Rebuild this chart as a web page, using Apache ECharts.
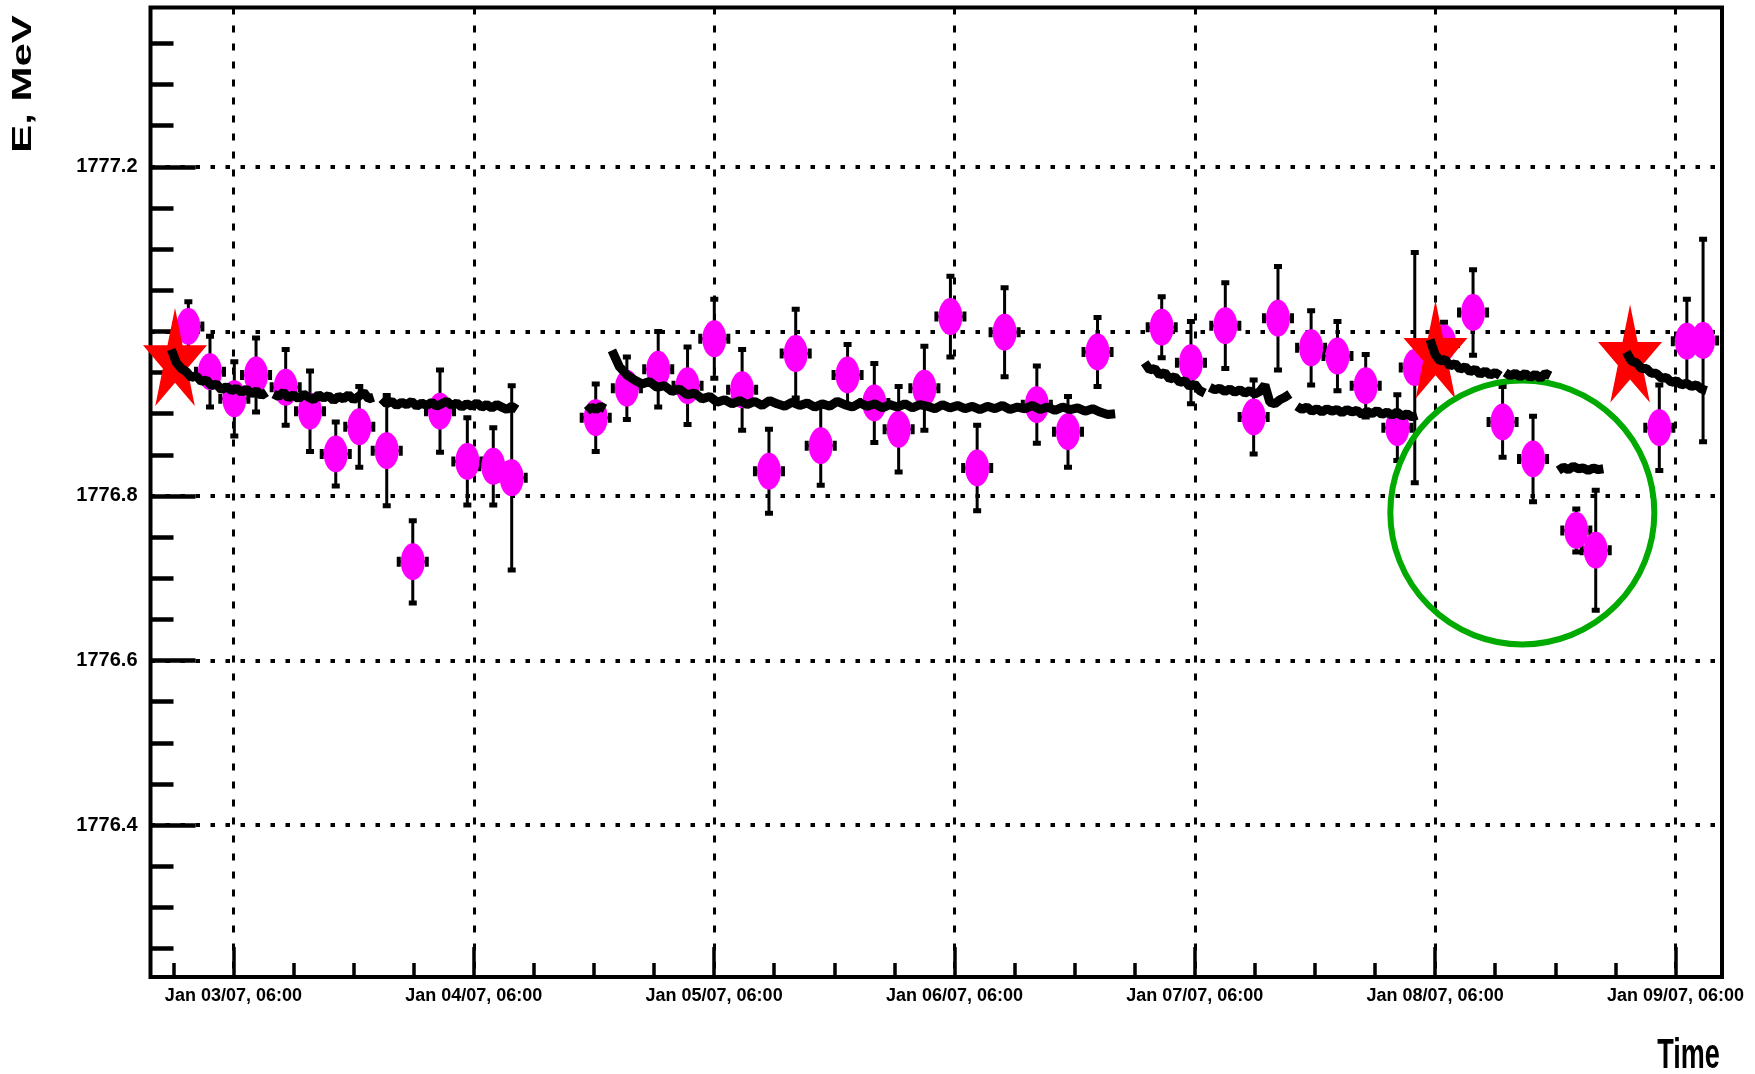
<!DOCTYPE html>
<html>
<head>
<meta charset="utf-8">
<script src="https://cdn.jsdelivr.net/npm/echarts@6/dist/echarts.min.js"></script>
<style>html,body{margin:0;padding:0;background:#fff}#c{width:1755px;height:1074px}</style>
</head>
<body>
<div id="c"></div>
<script>
// x values: hours since 2007-01-03 00:00
const xMajorTicks = [6, 30, 54, 78, 102, 126, 150];
const xTickLabels = ['Jan 03/07, 06:00','Jan 04/07, 06:00','Jan 05/07, 06:00','Jan 06/07, 06:00','Jan 07/07, 06:00','Jan 08/07, 06:00','Jan 09/07, 06:00'];
const xMinorTicks = [0,6,12,18,24,30,36,42,48,54,60,66,72,78,84,90,96,102,108,114,120,126,132,138,144,150];
const yMajorTicks = [1776.4, 1776.6, 1776.8, 1777.0, 1777.2];
const yTickLabels = ['1776.4', '1776.6', '1776.8', '', '1777.2'];
const yMinorTicks = [1776.25,1776.30,1776.35,1776.40,1776.45,1776.50,1776.55,1776.60,1776.65,1776.70,1776.75,1776.80,1776.85,1776.90,1776.95,1777.00,1777.05,1777.10,1777.15,1777.20,1777.25,1777.30,1777.35];

// magenta points with errors
const pointTime = [1.50, 3.66, 6.09, 8.26, 11.22, 13.65, 16.22, 18.57, 21.31, 23.91, 26.63, 29.36, 31.95, 33.79,
  42.18, 45.29, 48.42, 51.35, 54.02, 56.80, 59.48, 62.15, 64.65, 67.33, 70.00, 72.43, 75.00, 77.60, 80.27, 83.01, 86.23, 89.34, 92.29,
  98.70, 101.62, 105.05, 107.88, 110.31, 113.62, 116.25, 119.07, 122.23, 123.97, 126.89, 129.79, 132.74, 135.78, 140.10, 142.04, 148.39, 151.14, 152.76];
const pointEnergy = [1777.006, 1776.951, 1776.918, 1776.947, 1776.932, 1776.903, 1776.851, 1776.884, 1776.855, 1776.720, 1776.903, 1776.842, 1776.836, 1776.822,
  1776.895, 1776.931, 1776.954, 1776.934, 1776.991, 1776.929, 1776.830, 1776.973, 1776.861, 1776.947, 1776.913, 1776.881, 1776.931, 1777.018, 1776.834, 1776.999, 1776.911, 1776.878, 1776.975,
  1777.005, 1776.962, 1777.007, 1776.896, 1777.016, 1776.980, 1776.970, 1776.934, 1776.883, 1776.956, 1776.986, 1777.023, 1776.890, 1776.845, 1776.758, 1776.734, 1776.883, 1776.988, 1776.989];
const pointErr = [0.030, 0.043, 0.045, 0.045, 0.046, 0.049, 0.039, 0.049, 0.067, 0.050, 0.050, 0.053, 0.047, 0.112,
  0.041, 0.038, 0.046, 0.047, 0.048, 0.049, 0.051, 0.054, 0.048, 0.037, 0.048, 0.052, 0.051, 0.049, 0.052, 0.054, 0.047, 0.043, 0.042,
  0.037, 0.050, 0.052, 0.045, 0.063, 0.045, 0.042, 0.038, 0.040, 0.140, 0.025, 0.052, 0.043, 0.052, 0.026, 0.073, 0.052, 0.051, 0.123];
const pointTimeErr = 1.4;

// red stars
const starTime = [0.17, 126.04, 145.47];
const starEnergy = [1776.969, 1776.978, 1776.973];

// green highlight circle centre
const ringTime = [134.71];
const ringEnergy = [1776.780];

// black trace pieces: start hour, sampling step (h), values
const traceA1 = {start: -0.2, step: 0.5, values: [1776.978, 1776.962, 1776.955, 1776.951, 1776.944, 1776.946, 1776.939, 1776.941, 1776.934, 1776.936, 1776.929, 1776.933, 1776.928, 1776.931, 1776.926, 1776.930, 1776.924, 1776.928, 1776.922, 1776.926]};
const traceA2 = {start: 10.0, step: 0.5, values: [1776.924, 1776.921, 1776.926, 1776.919, 1776.923, 1776.918, 1776.924, 1776.920, 1776.917, 1776.923, 1776.919, 1776.922, 1776.916, 1776.921, 1776.918, 1776.923, 1776.917, 1776.921, 1776.926, 1776.918, 1776.920]};
const traceA3 = {start: 20.8, step: 0.5, values: [1776.918, 1776.912, 1776.915, 1776.910, 1776.914, 1776.911, 1776.915, 1776.909, 1776.913, 1776.910, 1776.914, 1776.909, 1776.912, 1776.915, 1776.910, 1776.913, 1776.908, 1776.912, 1776.909, 1776.913, 1776.908, 1776.911, 1776.907, 1776.911, 1776.908, 1776.905, 1776.909, 1776.905]};
const traceB0 = {start: 41.3, step: 0.45, values: [1776.903, 1776.908, 1776.905, 1776.909, 1776.906]};
const traceB1 = {start: 43.8, step: 0.75, values: [1776.977, 1776.957, 1776.947, 1776.941, 1776.936, 1776.939, 1776.932, 1776.934, 1776.927, 1776.930,
  1776.923, 1776.925, 1776.918, 1776.921, 1776.914, 1776.917, 1776.912, 1776.916, 1776.911, 1776.915,
  1776.910, 1776.916, 1776.912, 1776.909, 1776.914, 1776.910, 1776.913, 1776.908, 1776.912, 1776.909,
  1776.915, 1776.911, 1776.908, 1776.913, 1776.909, 1776.912, 1776.907, 1776.911, 1776.908, 1776.912,
  1776.907, 1776.911, 1776.909, 1776.906, 1776.911, 1776.907, 1776.910, 1776.906, 1776.909, 1776.905,
  1776.909, 1776.906, 1776.910, 1776.905, 1776.908, 1776.906, 1776.910, 1776.905, 1776.908, 1776.904,
  1776.908, 1776.905, 1776.907, 1776.903, 1776.906, 1776.902, 1776.899, 1776.900]};
const traceC1 = {start: 97.0, step: 0.5, values: [1776.962, 1776.953, 1776.955, 1776.947, 1776.950, 1776.942, 1776.945, 1776.938, 1776.940, 1776.933, 1776.936, 1776.928, 1776.925]};
const traceC2 = {start: 103.5, step: 0.5, values: [1776.932, 1776.929, 1776.931, 1776.927, 1776.930, 1776.926, 1776.929, 1776.925, 1776.928, 1776.924, 1776.927, 1776.935, 1776.914, 1776.912, 1776.917, 1776.920, 1776.924]};
const traceC3 = {start: 112.2, step: 0.5, values: [1776.909, 1776.905, 1776.908, 1776.903, 1776.906, 1776.902, 1776.906, 1776.903, 1776.905, 1776.901, 1776.905, 1776.902, 1776.904, 1776.899, 1776.903, 1776.900, 1776.904, 1776.899, 1776.902, 1776.898, 1776.902, 1776.897, 1776.900, 1776.896, 1776.898]};
const traceD1 = {start: 125.5, step: 0.5, values: [1776.990, 1776.972, 1776.964, 1776.966, 1776.958, 1776.961, 1776.954, 1776.957, 1776.951, 1776.954, 1776.948, 1776.952, 1776.947, 1776.950, 1776.946]};
const traceD2 = {start: 133.0, step: 0.5, values: [1776.950, 1776.946, 1776.949, 1776.945, 1776.949, 1776.944, 1776.948, 1776.943, 1776.949, 1776.946]};
const traceE = {start: 138.3, step: 0.5, values: [1776.831, 1776.835, 1776.832, 1776.836, 1776.833, 1776.834, 1776.831, 1776.834, 1776.832, 1776.833]};
const traceF = {start: 145.1, step: 0.5, values: [1776.975, 1776.964, 1776.962, 1776.955, 1776.955, 1776.949, 1776.949, 1776.943, 1776.944, 1776.938, 1776.940, 1776.935, 1776.937, 1776.933, 1776.935, 1776.930, 1776.928]};
const traces = [traceA1, traceA2, traceA3, traceB0, traceB1, traceC1, traceC2, traceC3, traceD1, traceD2, traceE, traceF];

const X_MIN = -2.28, X_MAX = 154.65;
const Y_MIN = 1776.2153, Y_MAX = 1777.3937;

const FONT = "'Liberation Sans', Arial, Helvetica, sans-serif";
const STAR = 'path://M0,-1 L0.2245,-0.309 L0.9511,-0.309 L0.3633,0.118 L0.5878,0.809 L0,0.382 L-0.5878,0.809 L-0.3633,0.118 L-0.9511,-0.309 L-0.2245,-0.309 Z';

const pointData = pointTime.map((t, i) => [t, pointEnergy[i], pointErr[i], pointTimeErr]);

function errorBars(params, api) {
  const t = api.value(0), v = api.value(1), e = api.value(2), te = api.value(3);
  const top = api.coord([t, v + e]);
  const bot = api.coord([t, v - e]);
  const lft = api.coord([t - te, v]);
  const rgt = api.coord([t + te, v]);
  const st = {stroke: '#000', lineWidth: 3};
  return {type: 'group', children: [
    {type: 'line', shape: {x1: top[0], y1: top[1], x2: bot[0], y2: bot[1]}, style: st},
    {type: 'line', shape: {x1: lft[0], y1: lft[1], x2: rgt[0], y2: rgt[1]}, style: st},
    {type: 'rect', shape: {x: top[0] - 4, y: top[1] - 2.5, width: 8, height: 5}, style: {fill: '#000'}},
    {type: 'rect', shape: {x: bot[0] - 4, y: bot[1] - 2.5, width: 8, height: 5}, style: {fill: '#000'}},
    {type: 'rect', shape: {x: lft[0] - 2, y: lft[1] - 5, width: 4, height: 10}, style: {fill: '#000'}},
    {type: 'rect', shape: {x: rgt[0] - 2, y: rgt[1] - 5, width: 4, height: 10}, style: {fill: '#000'}}
  ]};
}

const series = [
  {type: 'custom', name: 'errors', renderItem: errorBars, data: pointData, z: 3, clip: true},
  {type: 'scatter', name: 'points', data: pointData.map(d => [d[0], d[1]]), symbol: 'circle', symbolSize: [24, 37],
   itemStyle: {color: '#ff00ff', opacity: 1}, z: 4},
  {type: 'scatter', name: 'stars', data: starTime.map((t, i) => [t, starEnergy[i]]), symbol: STAR, symbolSize: [64, 98],
   itemStyle: {color: '#ff0000', opacity: 1}, z: 5},
  {type: 'scatter', name: 'ring', data: ringTime.map((t, i) => [t, ringEnergy[i]]), symbol: 'circle', symbolSize: 264,
   itemStyle: {color: 'rgba(0,0,0,0)', borderColor: '#00aa00', borderWidth: 6, opacity: 1}, z: 6, silent: true}
];
traces.forEach((tr, k) => {
  series.push({
    type: 'line', name: 'trace' + k, showSymbol: false, symbol: 'none',
    data: tr.values.map((v, i) => [tr.start + i * tr.step, v]),
    lineStyle: {color: '#000', width: 9, join: 'bevel', cap: 'butt'},
    z: 7, silent: true
  });
});

const chart = echarts.init(document.getElementById('c'), null, {renderer: 'canvas'});
chart.setOption({
  animation: false,
  backgroundColor: '#fff',
  grid: {left: 150.5, right: 33, top: 7.5, bottom: 97, show: true, borderColor: '#000', borderWidth: 4,
         backgroundColor: 'rgba(0,0,0,0)', containLabel: false, outerBoundsMode: 'none'},
  xAxis: [
    {type: 'value', min: X_MIN, max: X_MAX, position: 'bottom',
     axisLine: {show: false, onZero: false},
     axisTick: {show: true, inside: true, length: 30, customValues: xMajorTicks, lineStyle: {color: '#000', width: 3.5}},
     axisLabel: {show: true, customValues: xMajorTicks, margin: 10, color: '#000', fontFamily: FONT, fontWeight: 'bold', fontSize: 18,
                 formatter: v => { const i = xMajorTicks.indexOf(Math.round(v)); return i >= 0 ? xTickLabels[i] : ''; }},
     splitLine: {show: true, lineStyle: {color: '#000', width: 3, type: [7, 11]}}},
    {type: 'value', min: X_MIN, max: X_MAX, position: 'bottom',
     axisLine: {show: false, onZero: false},
     axisTick: {show: true, inside: true, length: 14, customValues: xMinorTicks, lineStyle: {color: '#000', width: 3.5}},
     axisLabel: {show: false}, splitLine: {show: false}}
  ],
  yAxis: [
    {type: 'value', min: Y_MIN, max: Y_MAX, position: 'left',
     axisLine: {show: false, onZero: false},
     axisTick: {show: true, inside: true, length: 45, customValues: yMajorTicks, lineStyle: {color: '#000', width: 4.5}},
     axisLabel: {show: true, customValues: yMajorTicks, margin: 13, color: '#000', fontFamily: FONT, fontWeight: 'bold', fontSize: 20,
                 formatter: v => { let best = -1, bd = 1; yMajorTicks.forEach((m, i) => { const d = Math.abs(m - v); if (d < bd) { bd = d; best = i; } }); return bd < 1e-4 ? yTickLabels[best] : ''; }},
     splitLine: {show: true, lineStyle: {color: '#000', width: 4, type: [4.5, 10.5]}}},
    {type: 'value', min: Y_MIN, max: Y_MAX, position: 'left',
     axisLine: {show: false, onZero: false},
     axisTick: {show: true, inside: true, length: 23, customValues: yMinorTicks, lineStyle: {color: '#000', width: 4.5}},
     axisLabel: {show: false}, splitLine: {show: false}}
  ],
  graphic: [
    {type: 'text', x: 23, y: 84, rotation: Math.PI / 2, scaleX: 1.5, silent: true,
     style: {text: 'E, MeV', fill: '#000', font: "bold 28px " + FONT, textAlign: 'center', textVerticalAlign: 'middle', align: 'center', verticalAlign: 'middle'}},
    {type: 'text', x: 1688.5, y: 1056, scaleY: 1.6, silent: true,
     style: {text: 'Time', fill: '#000', font: "bold 27px " + FONT, textAlign: 'center', textVerticalAlign: 'middle', align: 'center', verticalAlign: 'middle'}}
  ],
  series: series
});
</script>
</body>
</html>
